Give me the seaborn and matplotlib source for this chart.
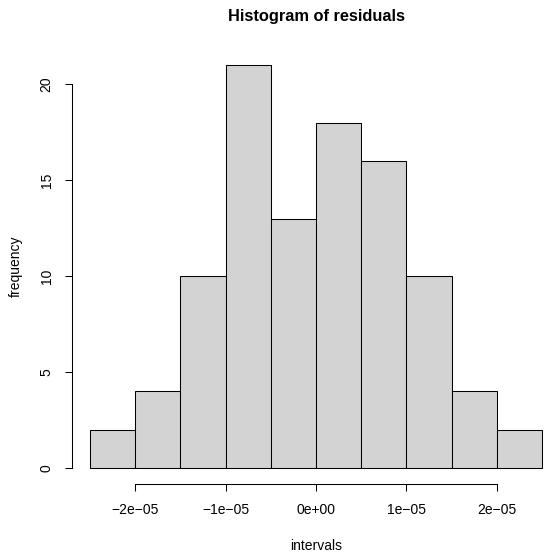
import matplotlib
matplotlib.use("Agg")
import matplotlib.pyplot as plt
import seaborn as sns

BIN_EDGES = [-2.5e-05, -2.0e-05, -1.5e-05, -1.0e-05, -0.5e-05, 0.0,
             0.5e-05, 1.0e-05, 1.5e-05, 2.0e-05, 2.5e-05]
BIN_CENTERS = [-2.25e-05, -1.75e-05, -1.25e-05, -0.75e-05, -0.25e-05,
               0.25e-05, 0.75e-05, 1.25e-05, 1.75e-05, 2.25e-05]
COUNTS = [2, 4, 10, 21, 13, 18, 16, 10, 4, 2]
X_TICKS = [-2e-05, -1e-05, 0.0, 1e-05, 2e-05]
X_TICK_LABELS = ["\u22122e\u221205", "\u22121e\u221205", "0e+00", "1e\u221205", "2e\u221205"]
Y_TICKS = [0, 5, 10, 15, 20]

W, H = 550, 557

sns.set_style("white")
plt.rcParams["font.family"] = ["Liberation Sans", "DejaVu Sans"]
plt.rcParams["text.color"] = "black"
plt.rcParams["axes.labelcolor"] = "black"
plt.rcParams["xtick.color"] = "black"
plt.rcParams["ytick.color"] = "black"

fig = plt.figure(figsize=(W / 100, H / 100), dpi=100)
left, right, top, bottom = 72.0, 560.0, 49.0, 484.3
ax = fig.add_axes([left / W, (H - bottom) / H, (right - left) / W, (bottom - top) / H])

sns.histplot(x=BIN_CENTERS, weights=COUNTS, bins=BIN_EDGES, ax=ax,
             color="#D3D3D3", alpha=1.0, edgecolor="black", linewidth=0.75)

ax.set_xlim(-2.7e-05, 2.7e-05)
ax.set_ylim(-0.84, 21.84)

for side in ["top", "right"]:
    ax.spines[side].set_visible(False)
for side in ["left", "bottom"]:
    ax.spines[side].set_color("black")
    ax.spines[side].set_linewidth(0.75)
ax.spines["left"].set_bounds(0, 20)
ax.spines["bottom"].set_bounds(-2e-05, 2e-05)

ax.set_xticks(X_TICKS)
ax.set_xticklabels(X_TICK_LABELS)
ax.set_yticks(Y_TICKS)
ax.set_yticklabels([str(v) for v in Y_TICKS], rotation=90, va="center")
ax.tick_params(axis="both", direction="out", length=5.2, width=0.75,
               labelsize=10, pad=8, left=True, bottom=True)

ax.set_xlabel("intervals", fontsize=10, labelpad=16)
ax.set_ylabel("frequency", fontsize=10, labelpad=12)
ax.grid(False)

fig.text(316 / W, 1 - 16 / H, "Histogram of residuals", ha="center", va="center",
         fontsize=11.8, fontweight="bold")

fig.savefig("out.png", dpi=100)
